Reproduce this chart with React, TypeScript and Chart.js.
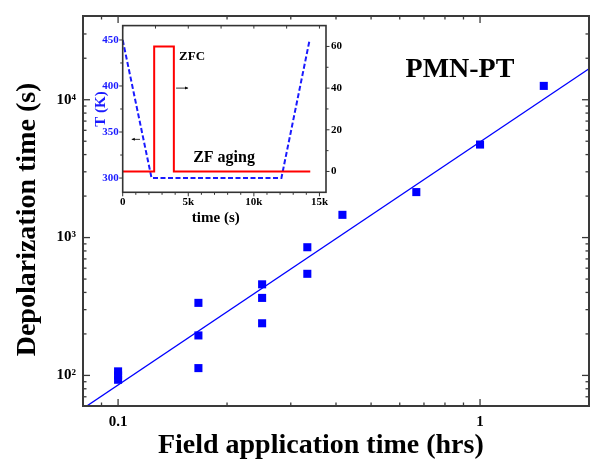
import React, { useEffect, useRef } from 'react';
import { Chart, registerables } from 'chart.js';

Chart.register(...registerables);

// ---------- main chart data ----------
const fieldHours = [0.1, 0.1, 0.1, 0.1667, 0.1667, 0.1667, 0.25, 0.25, 0.25, 0.3333, 0.3333, 0.4167, 0.6667, 1, 1.5];
const depolSeconds = [93, 100, 107, 113, 195, 336, 239, 365, 458, 546, 851, 1462, 2138, 4730, 12600];
const fitHours = [0.08, 2];
const fitSeconds = [57.5, 16800];
const xMajorTicks = [0.1, 1];
const xTickLabels = ['0.1', '1'];
const yMajorTicks = [100, 1000, 10000];
const yTickLabels = ['10\u00B2', '10\u00B3', '10\u2074'];
const sampleLabel = 'PMN-PT';
const xTitle = 'Field application time (hrs)';
const yTitle = 'Depolarization time (s)';

// ---------- inset data ----------
const insetTimeT = [0, 2200, 12100, 14250];
const insetTemp = [450, 300, 300, 450];
const insetTimeF = [0, 2400, 2400, 3900, 3900, 14300];
const insetField = [0, 0, 60, 60, 0, 0];
const insetXTicks = [0, 5000, 10000, 15000];
const insetXLabels = ['0', '5k', '10k', '15k'];
const insetTTicks = [300, 350, 400, 450];
const insetFTicks = [0, 20, 40, 60];
const insetXTitle = 'time (s)';
const insetYTitle = 'T (K)';
const insetNotes = [
  { text: 'ZFC', x: 4300, y: 53.5, size: 13 },
  { text: 'ZF aging', x: 5370, y: 4.7, size: 16 },
];

const SERIF = '"Liberation Serif", "Times New Roman", serif';
const BLUE = '#0000ff';
const INSET_BLUE = '#1a1aff';

function logMinors(min: number, max: number, majors: number[]) {
  const out: number[] = [];
  for (let d = Math.floor(Math.log10(min)); d <= Math.ceil(Math.log10(max)); d++) {
    for (let k = 1; k <= 9; k++) {
      const v = k * Math.pow(10, d);
      if (v >= min && v <= max && !majors.includes(v)) out.push(v);
    }
  }
  return out;
}

const mainFramePlugin = {
  id: 'mainFrame',
  afterDraw(chart: any) {
    const { ctx, chartArea: a, scales } = chart;
    const xs = scales.x;
    const ys = scales.y;
    const line = (x1: number, y1: number, x2: number, y2: number) => {
      ctx.beginPath();
      ctx.moveTo(x1, y1);
      ctx.lineTo(x2, y2);
      ctx.stroke();
    };
    ctx.save();
    ctx.strokeStyle = '#3a3a3a';
    ctx.lineWidth = 1.3;
    const xMin = logMinors(xs.min, xs.max, xMajorTicks);
    const yMin = logMinors(ys.min, ys.max, yMajorTicks);
    const tx = (v: number, len: number) => {
      const p = xs.getPixelForValue(v);
      if (p < a.left + 1 || p > a.right - 1) return;
      line(p, a.bottom, p, a.bottom - len);
      line(p, a.top, p, a.top + len);
    };
    const ty = (v: number, len: number) => {
      const p = ys.getPixelForValue(v);
      if (p < a.top + 1 || p > a.bottom - 1) return;
      line(a.left, p, a.left + len, p);
      line(a.right, p, a.right - len, p);
    };
    xMajorTicks.forEach((v) => tx(v, 7));
    xMin.forEach((v) => tx(v, 3.5));
    yMajorTicks.forEach((v) => ty(v, 7));
    yMin.forEach((v) => ty(v, 3.5));
    ctx.lineWidth = 2;
    ctx.strokeRect(a.left, a.top, a.right - a.left, a.bottom - a.top);
    ctx.fillStyle = '#000';
    ctx.font = `bold 28px ${SERIF}`;
    ctx.textAlign = 'center';
    ctx.textBaseline = 'alphabetic';
    ctx.fillText(sampleLabel, a.left + 0.745 * (a.right - a.left), a.top + 0.157 * (a.bottom - a.top));
    // x axis title
    ctx.fillText(xTitle, a.left + 0.47 * (a.right - a.left), chart.height - 8);
    // y axis title
    ctx.save();
    ctx.translate(35, a.top + 0.5216 * (a.bottom - a.top));
    ctx.rotate(-Math.PI / 2);
    ctx.fillText(yTitle, 0, 0);
    ctx.restore();
    ctx.restore();
  },
};

const insetFramePlugin = {
  id: 'insetFrame',
  afterDraw(chart: any) {
    const { ctx, chartArea: a, scales } = chart;
    const xs = scales.x;
    const yT = scales.yT;
    const yF = scales.yF;
    const line = (x1: number, y1: number, x2: number, y2: number) => {
      ctx.beginPath();
      ctx.moveTo(x1, y1);
      ctx.lineTo(x2, y2);
      ctx.stroke();
    };
    ctx.save();
    ctx.strokeStyle = '#333';
    ctx.lineWidth = 1;
    for (let v = 0; v <= xs.max; v += 1000) {
      const p = xs.getPixelForValue(v);
      line(p, a.bottom, p, a.bottom + (v % 5000 === 0 ? 4 : 2.5));
    }
    for (let v = 0; v <= xs.max; v += 2500) {
      const p = xs.getPixelForValue(v);
      line(p, a.top, p, a.top + 3);
    }
    for (let v = 300; v <= 450; v += 25) {
      const p = yT.getPixelForValue(v);
      line(a.left, p, a.left - (v % 50 === 0 ? 3.5 : 2.5), p);
    }
    for (let v = 0; v <= 60; v += 10) {
      const p = yF.getPixelForValue(v);
      line(a.right, p, a.right + (v % 20 === 0 ? 3.5 : 2.5), p);
    }
    ctx.lineWidth = 1.6;
    ctx.strokeRect(a.left, a.top, a.right - a.left, a.bottom - a.top);

    // annotations
    ctx.fillStyle = '#000';
    ctx.textAlign = 'left';
    ctx.textBaseline = 'alphabetic';
    insetNotes.forEach((n) => {
      ctx.font = `bold ${n.size}px ${SERIF}`;
      ctx.fillText(n.text, xs.getPixelForValue(n.x), yF.getPixelForValue(n.y));
    });
    // x axis title
    ctx.font = `bold 15px ${SERIF}`;
    ctx.textAlign = 'center';
    ctx.fillText(insetXTitle, a.left + 0.458 * (a.right - a.left), chart.height - 8);
    // small arrows indicating axes
    const arrow = (x1: number, x2: number, y: number) => {
      ctx.lineWidth = 0.8;
      ctx.strokeStyle = '#000';
      line(x1, y, x2, y);
      const dir = Math.sign(x2 - x1);
      ctx.beginPath();
      ctx.moveTo(x2, y);
      ctx.lineTo(x2 - dir * 3, y - 1.5);
      ctx.lineTo(x2 - dir * 3, y + 1.5);
      ctx.closePath();
      ctx.fillStyle = '#000';
      ctx.fill();
    };
    const yR = yF.getPixelForValue(40);
    arrow(xs.getPixelForValue(4070), xs.getPixelForValue(4985), yR);
    const yL = yT.getPixelForValue(342);
    arrow(xs.getPixelForValue(1320), xs.getPixelForValue(690), yL);
    ctx.restore();
  },
};

function MainChart() {
  const ref = useRef<HTMLCanvasElement>(null);
  useEffect(() => {
    const chart = new Chart(ref.current as HTMLCanvasElement, {
      type: 'scatter',
      data: {
        datasets: [
          {
            label: 'Depolarization time',
            data: fieldHours.map((x, i) => ({ x, y: depolSeconds[i] })),
            pointStyle: 'rect',
            pointRadius: 5.7,
            backgroundColor: BLUE,
            borderColor: BLUE,
            borderWidth: 0,
          },
          {
            label: 'Fit',
            data: fitHours.map((x, i) => ({ x, y: fitSeconds[i] })),
            showLine: true,
            pointRadius: 0,
            borderColor: BLUE,
            borderWidth: 1.3,
            fill: false,
          },
        ],
      },
      options: {
        animation: false,
        responsive: false,
        maintainAspectRatio: false,
        layout: { padding: { top: 12, right: 8, left: 0, bottom: 0 } },
        plugins: { legend: { display: false }, tooltip: { enabled: false } },
        scales: {
          x: {
            type: 'logarithmic',
            min: 0.08,
            max: 2,
            grid: { display: false, drawTicks: false },
            border: { display: false },
            afterBuildTicks: (s: any) => {
              s.ticks = xMajorTicks.map((v) => ({ value: v }));
            },
            afterFit: (s: any) => {
              s.height = 55;
            },
            ticks: {
              autoSkip: false,
              maxRotation: 0,
              padding: 7,
              color: '#000',
              font: { family: SERIF, size: 15, weight: 'bold' },
              callback: (v: any) => xTickLabels[xMajorTicks.indexOf(Number(v))] ?? '',
            },
          },
          y: {
            type: 'logarithmic',
            min: 60,
            max: 40500,
            grid: { display: false, drawTicks: false },
            border: { display: false },
            afterBuildTicks: (s: any) => {
              s.ticks = yMajorTicks.map((v) => ({ value: v }));
            },
            afterFit: (s: any) => {
              s.width = 83;
            },
            ticks: {
              autoSkip: false,
              padding: 7,
              color: '#000',
              font: { family: SERIF, size: 15, weight: 'bold' },
              callback: (v: any) => yTickLabels[yMajorTicks.indexOf(Number(v))] ?? '',
            },
          },
        },
      } as any,
      plugins: [mainFramePlugin],
    });
    return () => chart.destroy();
  }, []);
  return (
    <canvas
      ref={ref}
      width={597}
      height={461}
      style={{ position: 'absolute', left: 0, top: 0, width: 597, height: 461 }}
    />
  );
}

function InsetChart() {
  const ref = useRef<HTMLCanvasElement>(null);
  useEffect(() => {
    const chart = new Chart(ref.current as HTMLCanvasElement, {
      type: 'scatter',
      data: {
        datasets: [
          {
            label: 'Field',
            data: insetTimeF.map((x, i) => ({ x, y: insetField[i] })),
            yAxisID: 'yF',
            showLine: true,
            pointRadius: 0,
            borderColor: '#ff0000',
            borderWidth: 2,
          },
          {
            label: 'T',
            data: insetTimeT.map((x, i) => ({ x, y: insetTemp[i] })),
            yAxisID: 'yT',
            showLine: true,
            pointRadius: 0,
            borderColor: INSET_BLUE,
            borderWidth: 2,
            borderDash: [5, 2.5],
          },
        ],
      },
      options: {
        animation: false,
        responsive: false,
        maintainAspectRatio: false,
        layout: { padding: { top: 8, right: 0, left: 0, bottom: 0 } },
        plugins: { legend: { display: false }, tooltip: { enabled: false } },
        scales: {
          x: {
            type: 'linear',
            min: 0,
            max: 15500,
            grid: { display: false, drawTicks: false },
            border: { display: false },
            afterBuildTicks: (s: any) => {
              s.ticks = insetXTicks.map((v) => ({ value: v }));
            },
            afterFit: (s: any) => {
              s.height = 37.7;
            },
            ticks: {
              autoSkip: false,
              maxRotation: 0,
              padding: 3,
              color: '#000',
              font: { family: SERIF, size: 11, weight: 'bold' },
              callback: (v: any) => insetXLabels[insetXTicks.indexOf(Number(v))] ?? '',
            },
          },
          yT: {
            type: 'linear',
            position: 'left',
            min: 284.5,
            max: 465.6,
            grid: { display: false, drawTicks: false },
            border: { display: false },
            afterBuildTicks: (s: any) => {
              s.ticks = insetTTicks.map((v) => ({ value: v }));
            },
            afterFit: (s: any) => {
              s.width = 32.7;
            },
            ticks: {
              autoSkip: false,
              padding: 4,
              color: INSET_BLUE,
              font: { family: SERIF, size: 11, weight: 'bold' },
            },
            title: {
              display: true,
              text: insetYTitle,
              color: INSET_BLUE,
              font: { family: SERIF, size: 15, weight: 'bold' },
              padding: { top: 2.5, bottom: 0 },
            },
          },
          yF: {
            type: 'linear',
            position: 'right',
            min: -10,
            max: 70,
            grid: { display: false, drawTicks: false },
            border: { display: false },
            afterBuildTicks: (s: any) => {
              s.ticks = insetFTicks.map((v) => ({ value: v }));
            },
            afterFit: (s: any) => {
              s.width = 24;
            },
            ticks: {
              autoSkip: false,
              padding: 5,
              color: '#000',
              font: { family: SERIF, size: 11, weight: 'bold' },
            },
          },
        },
      } as any,
      plugins: [insetFramePlugin],
    });
    return () => chart.destroy();
  }, []);
  return (
    <canvas
      ref={ref}
      width={260}
      height={216}
      style={{ position: 'absolute', left: 90, top: 14, width: 260, height: 216 }}
    />
  );
}

export default function App() {
  return (
    <div style={{ position: 'fixed', left: 0, top: 0, width: 597, height: 461, background: '#fff' }}>
      <MainChart />
      <InsetChart />
    </div>
  );
}
